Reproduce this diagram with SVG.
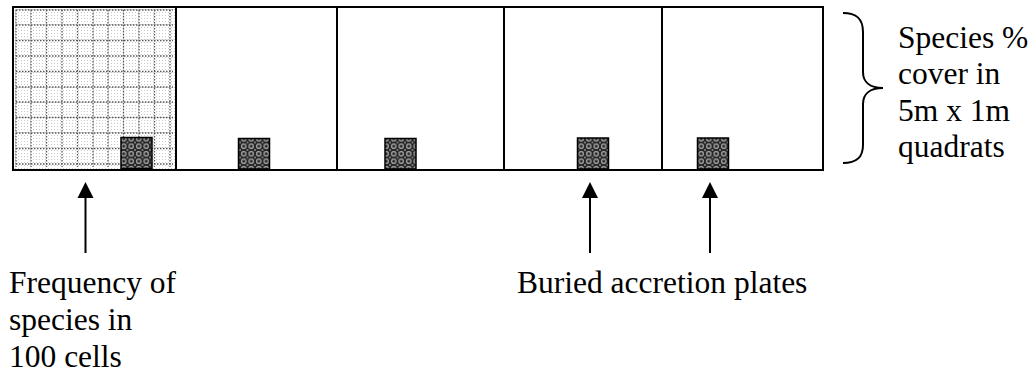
<svg xmlns="http://www.w3.org/2000/svg" width="1036" height="376" viewBox="0 0 1036 376">
<defs>
<pattern id="stipple" width="3" height="3" patternUnits="userSpaceOnUse">
<rect width="3" height="3" fill="#ffffff"/>
<rect x="0" y="0" width="1" height="1" fill="#c8c8c8"/>
</pattern>
<pattern id="hatch" width="7.5" height="7.5" patternUnits="userSpaceOnUse">
<rect width="7.5" height="7.5" fill="#262626"/>
<circle cx="3.75" cy="3.75" r="2.2" fill="none" stroke="#b4b4b4" stroke-width="1.1"/>
<circle cx="0" cy="0" r="1" fill="#909090"/>
<circle cx="7.5" cy="0" r="1" fill="#909090"/>
<circle cx="0" cy="7.5" r="1" fill="#909090"/>
<circle cx="7.5" cy="7.5" r="1" fill="#909090"/>
</pattern>
</defs>
<style>
.frame{fill:none;stroke:#000;stroke-width:2}
.grid{stroke:#555;stroke-width:1.3;stroke-dasharray:1.5 1.5;fill:none}
.plate{fill:url(#hatch);stroke:#000;stroke-width:1.5}
.conn{stroke:#000;stroke-width:2;fill:none}
.head{fill:#000}
</style>
<g id="quadrat-1">
<rect x="13" y="7" width="163" height="163" fill="url(#stipple)"/>
<path class="grid" d="M16,10V167 M31,10V167 M46.5,10V167 M62,10V167 M77.5,10V167 M93,10V167 M108,10V167 M123.5,10V167 M139,10V167 M154.5,10V167 M170,10V167"/>
<path class="grid" d="M16,10H173 M16,25H173 M16,40.5H173 M16,56H173 M16,71.5H173 M16,87H173 M16,102H173 M16,117.5H173 M16,133H173 M16,148.5H173 M16,164H173"/>
<rect class="plate" x="121" y="137.5" width="31" height="31"/>
</g>
<g id="quadrat-2">
<rect class="plate" x="238.5" y="138.5" width="31" height="30.5"/>
</g>
<g id="quadrat-3">
<rect class="plate" x="385" y="138.5" width="31" height="30.5"/>
</g>
<g id="quadrat-4">
<rect class="plate" x="577.5" y="138" width="31" height="31"/>
</g>
<g id="quadrat-5">
<rect class="plate" x="697.5" y="138" width="31" height="31"/>
</g>
<g id="frame">
<rect class="frame" x="13" y="7" width="810" height="163"/>
<path class="frame" d="M176,7V170 M337,7V170 M504,7V170 M662,7V170"/>
</g>
<g id="connectors">
<path class="conn" d="M85.5,253V196"/>
<path class="head" d="M77.5,198 L85.5,182 L93.5,198 z"/>
<path class="conn" d="M590,253V196"/>
<path class="head" d="M582,198 L590,182 L598,198 z"/>
<path class="conn" d="M710,253V196"/>
<path class="head" d="M702,198 L710,182 L718,198 z"/>
<path id="brace" class="conn" d="M843,13 C856,13 863,18 863,32 L863,72 C863,82 870,88 883,88 C870,88 863,94 863,104 L863,145 C863,158 856,163 843,163"/>
</g>
<g id="label-frequency" font-family="Liberation Serif, Times New Roman, serif" font-size="31.5" fill="#000">
<text x="9" y="293">Frequency of</text>
<text x="9" y="330">species in</text>
<text x="9" y="367">100 cells</text>
</g>
<g id="label-plates" font-family="Liberation Serif, Times New Roman, serif" font-size="31.5" fill="#000">
<text x="517" y="293">Buried accretion plates</text>
</g>
<g id="label-cover" font-family="Liberation Serif, Times New Roman, serif" font-size="31.5" fill="#000">
<text x="898" y="48">Species %</text>
<text x="898" y="84">cover in</text>
<text x="898" y="121">5m x 1m</text>
<text x="898" y="157">quadrats</text>
</g>
</svg>
